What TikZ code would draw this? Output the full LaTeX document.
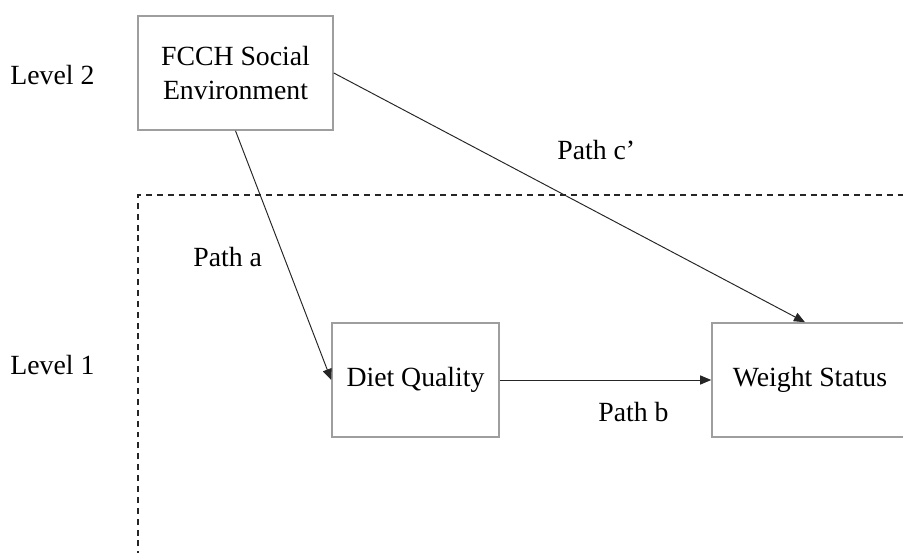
\documentclass[tikz,border=0pt]{standalone}
\usepackage{fontspec}
\setmainfont{Liberation Serif}
\usetikzlibrary{arrows.meta}

\begin{document}
\begin{tikzpicture}[x=0.02cm,y=-0.02cm,
	font=\fontsize{15.8}{19.5}\selectfont,
	box/.style={draw=black!38,line width=0.9pt,align=center,inner sep=0pt},
	path/.style={draw=black!85,line width=0.55pt,-{Triangle[length=6.3pt,width=5.2pt]}},
	lbl/.style={anchor=west,inner sep=0pt}]
	\useasboundingbox (0,0) rectangle (903,553);
	\clip (0,0) rectangle (903,553);

	% level 1 frame
	\draw[black!85,line width=1.1pt,dash pattern=on 3.4pt off 2.8pt] (138,590) -- (138,195) -- (930,195);

	\node[box,minimum width=195*0.02cm,minimum height=114*0.02cm] (soc) at (235.5,73) {FCCH Social\\Environment};
	\node[box,minimum width=167*0.02cm,minimum height=114*0.02cm] (diet) at (415.5,380) {Diet Quality};
	\node[box,minimum width=196*0.02cm,minimum height=114*0.02cm] (wgt) at (810,380) {Weight Status};

	\node[lbl] (lv2) at (10,75) {Level 2};
	\node[lbl] (lv1) at (10,365) {Level 1};
	\node[lbl] (pa) at (193,257) {Path a};
	\node[lbl] (pc) at (557,150) {Path c’};
	\node[lbl] (pb) at (598,412) {Path b};

	\draw[path] (soc.south) -- (diet.west);
	\draw[path] (soc.east) -- ([xshift=-5*0.02cm]wgt.north);
	\draw[path] (diet.east) -- (wgt.west);

\end{tikzpicture}
\end{document}
